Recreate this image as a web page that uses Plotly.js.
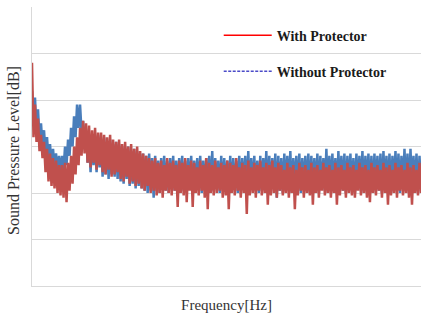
<!DOCTYPE html>
<html><head><meta charset="utf-8">
<script src="https://cdn.plot.ly/plotly-3.0.1.min.js"></script>
<style>html,body{margin:0;padding:0;background:#fff}#chart{width:421px;height:314px}</style>
</head><body><div id="chart"></div>
<script>
// Sound pressure level per frequency bin (arbitrary dB units)
var withProtector = [
96,64,78,62,72,58,65,55,62,49,
59,45,57,43,55,42,54,40,52,39,
52,38,53,36,53,41,56,44,60,48,
64,52,68,56,71,57,70,53,69,51,
67,53,68,50,66,52,66,49,65,48,
64,50,65,47,63,48,62,49,63,46,
61,45,62,47,60,44,61,45,59,43,
60,44,58,42,57,41,56,43,55,40,
54,41,55,39,53,40,54,38,52,41,
55,40,53,39,54,41,52,34,54,40,
53,39,55,36,52,41,54,34,53,40,
51,39,54,41,52,38,55,33,53,40,
52,39,54,40,51,41,53,38,52,39,
54,33,53,40,52,39,55,41,51,38,
53,40,52,31,54,39,51,40,53,38,
52,41,54,39,51,40,53,35,52,39,
54,40,51,38,53,41,52,39,50,40,
53,38,51,40,52,33,50,39,53,41,
51,38,52,40,50,39,53,35,51,40,
52,38,50,41,53,39,51,40,52,38,
50,40,53,35,51,39,52,41,50,38,
53,40,51,39,52,38,50,41,53,39,
51,40,52,38,50,36,53,40,51,39,
52,41,50,38,53,40,51,35,52,39,
50,40,53,38,51,41,52,39,50,40,
53,38,51,35,52,40,50,39,53,40
];
var withoutProtector = [
84,70,81,66,76,63,70,60,67,57,
64,54,61,52,59,51,57,50,56,49,
56,50,60,52,63,56,68,60,73,64,
78,68,78,66,71,60,66,53,63,49,
65,52,64,49,65,51,63,47,64,48,
62,46,63,48,61,47,62,46,61,45,
60,44,59,46,60,43,58,44,59,42,
58,43,57,42,57,41,56,40,57,41,
55,38,56,41,54,40,55,42,56,41,
54,40,55,42,56,41,54,40,55,42,
56,41,54,40,55,42,56,39,54,41,
55,42,56,40,54,41,55,42,56,40,
58,41,55,42,54,40,56,41,55,42,
54,40,56,41,55,42,54,40,56,41,
55,42,56,40,58,41,55,42,56,41,
54,40,56,41,55,42,58,40,56,41,
55,42,57,38,56,41,55,40,57,42,
56,41,58,40,55,42,56,41,57,40,
55,42,56,41,57,40,56,42,55,41,
57,40,56,42,55,41,59,40,56,42,
57,41,55,40,58,42,56,41,57,40,
56,42,57,41,55,40,57,42,56,41,
58,40,56,42,57,41,56,40,57,42,
56,41,57,40,58,42,56,41,57,40,
56,42,58,41,57,40,56,42,59,41,
57,40,59,42,56,41,57,40,56,42
];
var seriesNames = ["With Protector", "Without Protector"];
var xTitle = "Frequency[Hz]";
var yTitle = "Sound Pressure Level[dB]";

var serif = "'Liberation Serif','Times New Roman',serif";
var traces = [
  {y: withoutProtector, x0: 0, dx: 1, type: 'scatter', mode: 'lines', showlegend: false,
   line: {color: '#4A7EBB', width: 2.5}, hoverinfo: 'skip'},
  {y: withProtector, x0: 0, dx: 1, type: 'scatter', mode: 'lines', showlegend: false,
   line: {color: '#C0504D', width: 2.5}, hoverinfo: 'skip'},
  {y: [null], x: [null], type: 'scatter', mode: 'lines', name: seriesNames[0], legendgroup: 'a',
   line: {color: '#FF0000', width: 1.5}},
  {y: [null], x: [null], type: 'scatter', mode: 'lines', name: seriesNames[1], legendgroup: 'b',
   line: {color: '#4B4BC8', width: 1.5, dash: '3px,1.5px'}}
];
var layout = {
  width: 421, height: 314,
  margin: {l: 32, r: 0, t: 7, b: 28},
  paper_bgcolor: '#fff', plot_bgcolor: '#fff',
  showlegend: true,
  legend: {x: 0.48, y: 0.955, xanchor: 'left', yanchor: 'top', bgcolor: 'rgba(0,0,0,0)',
    font: {family: serif, size: 14, color: '#1a1a1a', weight: 'bold'}, tracegroupgap: 15, traceorder: 'grouped',
    itemwidth: 48},
  annotations: [{text: yTitle, xref: 'paper', yref: 'paper', x: -0.0463, y: 0.4875,
    xanchor: 'center', yanchor: 'middle', textangle: -90, showarrow: false,
    font: {family: serif, size: 16, color: '#333'}}],
  xaxis: {range: [0, withProtector.length - 1], showgrid: false, zeroline: false,
    showticklabels: false, ticks: '', showline: true, linecolor: '#D9D9D9', linewidth: 1,
    title: {text: xTitle, font: {family: serif, size: 15, color: '#333'}, standoff: 13}},
  yaxis: {range: [0, 120], dtick: 20, showgrid: true, gridcolor: '#D9D9D9', gridwidth: 1,
    zeroline: false, showticklabels: false, ticks: '', showline: true, linecolor: '#D9D9D9',
    linewidth: 1}
};
Plotly.newPlot('chart', traces, layout, {staticPlot: true, displayModeBar: false});
</script></body></html>
